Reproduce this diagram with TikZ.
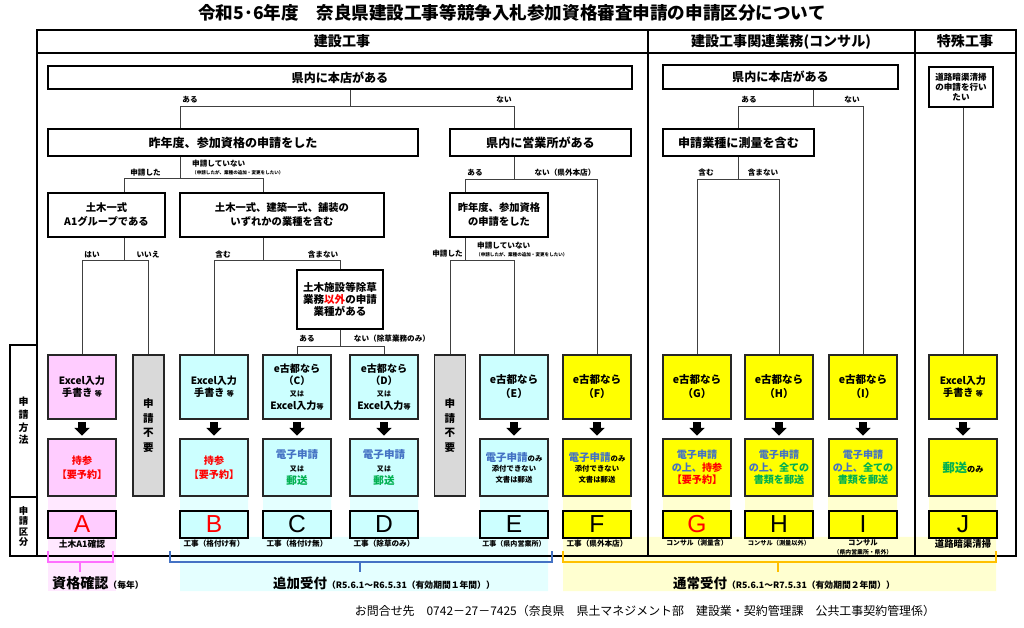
\documentclass[tikz,border=0pt]{standalone}
\usepackage{fontspec}
\setmainfont{Noto Sans CJK JP}
\newfontfamily\letterfont{Liberation Sans}
\usetikzlibrary{arrows.meta}

\definecolor{pinkbox}{RGB}{255,204,255}
\definecolor{cyanbox}{RGB}{204,255,255}
\definecolor{yelbox}{RGB}{255,255,0}
\definecolor{greybox}{RGB}{217,217,217}
\definecolor{pinkpale}{RGB}{255,232,255}
\definecolor{cyanpale}{RGB}{228,255,255}
\definecolor{yelpale}{RGB}{255,255,208}
\definecolor{ebblue}{RGB}{68,114,196}
\definecolor{mailgreen}{RGB}{0,176,80}
\definecolor{brpink}{RGB}{255,110,255}
\definecolor{brblue}{RGB}{68,114,196}
\definecolor{brgold}{RGB}{255,192,0}

\newcommand{\fsz}[2]{\fontsize{#1}{#2}\selectfont}

\tikzset{
  sz/.style 2 args={minimum width=#1*0.03cm, minimum height=#2*0.03cm},
  dec/.style={draw, line width=1.6pt, fill=white, align=center, inner sep=0pt, font=\bfseries\fsz{10.3}{12.5}},
  meth/.style={draw=black!85, line width=0.9pt, align=center, inner sep=0pt, font=\bfseries\fsz{8.6}{10.5}, sz={68}{64}},
  res/.style={meth, sz={68}{57}},
  nobox/.style={meth, fill=greybox, sz={31}{141}, font=\bfseries\fsz{9}{12.5}},
  lett/.style={draw, line width=1pt, inner sep=0pt, sz={68}{27}, font=\letterfont\fsz{21}{21}},
  conn/.style={draw=black!75, line width=0.6pt},
  lbl/.style={font=\bfseries\fsz{6.5}{7}, inner sep=0pt},
  note/.style={font=\bfseries\fsz{3.9}{4}, inner sep=0pt},
  catlbl/.style={font=\bfseries\fsz{6.5}{7.5}, align=center, inner sep=0pt},
  blk/.style={draw=black, line width=6.5pt, -{Triangle[width=13pt,length=6.5pt,line width=0pt]}, shorten <=2.5pt, shorten >=2.5pt},
  brace/.style={line width=1.6pt},
}

\begin{document}
\begin{tikzpicture}[x=0.03cm, y=-0.03cm]
\useasboundingbox (0,0) rectangle (1024,628);

% pale backgrounds
\fill[pinkpale] (48,497) rectangle (116,591);
\fill[cyanpale] (180,497) rectangle (248,537) (263,497) rectangle (331,537)
  (350,497) rectangle (418,537) (480,497) rectangle (548,537) (180,537) rectangle (548,591);
\fill[yelpale] (563,497) rectangle (631,537) (663,497) rectangle (730,537)
  (745,497) rectangle (813,537) (828,497) rectangle (897,537)
  (929,497) rectangle (996,537) (563,537) rectangle (996,591);

% title
\node[font=\bfseries\fsz{15}{15}] (title) at (512,13) {令和5･6年度　奈良県建設工事等競争入札参加資格審査申請の申請区分について};

% frame
\draw[line width=1.5pt] (37,30) rectangle (1016,556);
\draw[line width=1.5pt] (37,53) -- (1016,53);
\draw[line width=1.5pt] (648,30) -- (648,556);
\draw[line width=1.5pt] (915,30) -- (915,556);
\node[font=\bfseries\fsz{12}{12}] (h1) at (342,41.5) {建設工事};
\node[font=\bfseries\fsz{12}{12}] (h2) at (781,41.5) {建設工事関連業務(コンサル)};
\node[font=\bfseries\fsz{12}{12}] (h3) at (965,41.5) {特殊工事};

% side labels
\node[draw, line width=1.2pt, sz={27}{152}, align=center, inner sep=0pt, font=\bfseries\fsz{8.5}{10.7}] (hm) at (23.5,421) {申\\請\\方\\法};
\node[draw, line width=1.2pt, sz={27}{59}, align=center, inner sep=0pt, font=\bfseries\fsz{8}{8.8}] (hk) at (23.5,526.5) {申\\請\\区\\分};

% questions
\node[dec, sz={584}{23}] (hq) at (340,77.5) {県内に本店がある};
\node[dec, sz={370}{27}] (last) at (233,142.5) {昨年度、参加資格の申請をした};
\node[dec, sz={181}{27}] (office) at (540.5,142.5) {県内に営業所がある};
\node[dec, sz={117}{44}, font=\bfseries\fsz{8.8}{12}] (a1q) at (106.5,215) {土木一式\\A1グループである};
\node[dec, sz={204}{44}, font=\bfseries\fsz{8.8}{12}] (gyoq) at (282,215) {土木一式、建築一式、舗装の\\いずれかの業種を含む};
\node[dec, sz={86}{59}, font=\bfseries\fsz{9}{10.2}] (josq) at (340,299.5) {土木施設等除草\\業務{\color{red}以外}の申請\\業種がある};
\node[dec, sz={98}{44}, font=\bfseries\fsz{8.8}{12}] (last2) at (499,215) {昨年度、参加資格\\の申請をした};
\node[dec, sz={235}{24}] (chq) at (780.5,77) {県内に本店がある};
\node[dec, sz={151}{27}] (sokq) at (738.5,142.5) {申請業種に測量を含む};
\node[dec, sz={64}{40}, font=\bfseries\fsz{7.3}{8.6}] (road) at (961,87) {道路暗渠清掃\\の申請を行い\\たい};

% method boxes
\node[meth, fill=pinkbox] (mA) at (82,387) {Excel入力\\手書き {\fsz{6}{6}等}};
\node[nobox] (nA) at (148.5,425.5) {申\\請\\不\\要};
\node[meth, fill=cyanbox] (mB) at (214,387) {Excel入力\\手書き {\fsz{6}{6}等}};
\node[meth, fill=cyanbox] (mC) at (297,387) {e古都なら\\（C）\\{\fsz{6}{6}又は}\\Excel入力{\fsz{6}{6}等}};
\node[meth, fill=cyanbox] (mD) at (384,387) {e古都なら\\（D）\\{\fsz{6}{6}又は}\\Excel入力{\fsz{6}{6}等}};
\node[nobox] (nE) at (450,425.5) {申\\請\\不\\要};
\node[meth, fill=cyanbox, font=\bfseries\fsz{9}{12}] (mE) at (514,387) {e古都なら\\（E）};
\node[meth, fill=yelbox, font=\bfseries\fsz{9}{12}] (mF) at (597,387) {e古都なら\\（F）};
\node[meth, fill=yelbox, font=\bfseries\fsz{9}{12}] (mG) at (697,387) {e古都なら\\（G）};
\node[meth, fill=yelbox, font=\bfseries\fsz{9}{12}] (mH) at (779,387) {e古都なら\\（H）};
\node[meth, fill=yelbox, font=\bfseries\fsz{9}{12}] (mI) at (863,387) {e古都なら\\（I）};
\node[meth, fill=yelbox] (mJ) at (963,387) {Excel入力\\手書き {\fsz{6}{6}等}};

% how to submit
\node[res, fill=pinkbox, text=red, font=\bfseries\fsz{8.6}{12}] (rA) at (82,467.5) {持参\\【要予約】};
\node[res, fill=cyanbox, text=red, font=\bfseries\fsz{8.6}{12}] (rB) at (214,467.5) {持参\\【要予約】};
\node[res, fill=cyanbox, font=\bfseries\fsz{9}{11}] (rC) at (297,467.5) {{\color{ebblue}電子申請}\\{\fsz{6}{6}又は}\\{\color{mailgreen}郵送}};
\node[res, fill=cyanbox, font=\bfseries\fsz{9}{11}] (rD) at (384,467.5) {{\color{ebblue}電子申請}\\{\fsz{6}{6}又は}\\{\color{mailgreen}郵送}};
\node[res, fill=cyanbox, font=\bfseries\fsz{6.3}{9}] (rE) at (514,467.5) {{\color{ebblue}\fsz{9}{9}電子申請}のみ\\添付できない\\文書は郵送};
\node[res, fill=yelbox, font=\bfseries\fsz{6.3}{9}] (rF) at (597,467.5) {{\color{ebblue}\fsz{9}{9}電子申請}のみ\\添付できない\\文書は郵送};
\node[res, fill=yelbox, font=\bfseries\fsz{8.6}{10.6}] (rG) at (697,467.5) {{\color{ebblue}電子申請}\\{\color{ebblue}の上、}{\color{red}持参}\\{\color{red}【要予約】}};
\node[res, fill=yelbox, font=\bfseries\fsz{8.6}{10.6}] (rH) at (779,467.5) {{\color{ebblue}電子申請}\\{\color{ebblue}の上、}{\color{mailgreen}全ての}\\{\color{mailgreen}書類を郵送}};
\node[res, fill=yelbox, font=\bfseries\fsz{8.6}{10.6}] (rI) at (863,467.5) {{\color{ebblue}電子申請}\\{\color{ebblue}の上、}{\color{mailgreen}全ての}\\{\color{mailgreen}書類を郵送}};
\node[res, fill=yelbox, font=\bfseries\fsz{7}{7}] (rJ) at (963,467.5) {{\color{mailgreen}\fsz{10.5}{10.5}郵送}のみ};

% arrows
\draw[blk] (mA.south) -- (rA.north);
\draw[blk] (mB.south) -- (rB.north);
\draw[blk] (mC.south) -- (rC.north);
\draw[blk] (mD.south) -- (rD.north);
\draw[blk] (mE.south) -- (rE.north);
\draw[blk] (mF.south) -- (rF.north);
\draw[blk] (mG.south) -- (rG.north);
\draw[blk] (mH.south) -- (rH.north);
\draw[blk] (mI.south) -- (rI.north);
\draw[blk] (mJ.south) -- (rJ.north);

% categories
\node[lett, fill=pinkbox, text=red] (lA) at (82,524.5) {A};
\node[lett, fill=cyanbox, text=red] (lB) at (214,524.5) {B};
\node[lett, fill=cyanbox] (lC) at (297,524.5) {C};
\node[lett, fill=cyanbox] (lD) at (384,524.5) {D};
\node[lett, fill=cyanbox] (lE) at (514,524.5) {E};
\node[lett, fill=yelbox] (lF) at (597,524.5) {F};
\node[lett, fill=yelbox, text=red] (lG) at (697,524.5) {G};
\node[lett, fill=yelbox] (lH) at (779,524.5) {H};
\node[lett, fill=yelbox] (lI) at (863,524.5) {I};
\node[lett, fill=yelbox] (lJ) at (963,524.5) {J};

\node[catlbl, font=\bfseries\fsz{7.5}{8}] (cA) at (82,544) {土木A1確認};
\node[catlbl] (cB) at (214,544) {工事（格付け有）};
\node[catlbl] (cC) at (297,544) {工事（格付け無）};
\node[catlbl] (cD) at (384,544) {工事（除草のみ）};
\node[catlbl, font=\bfseries\fsz{6}{7}] (cE) at (514,544) {工事（県内営業所）};
\node[catlbl] (cF) at (597,544) {工事（県外本店）};
\node[catlbl, font=\bfseries\fsz{5.8}{7}] (cG) at (697,543) {コンサル（測量含）};
\node[catlbl, font=\bfseries\fsz{5.3}{7}] (cH) at (779,543) {コンサル（測量以外）};
\node[catlbl, font=\bfseries\fsz{5}{7.5}] (cI) at (863,547) {{\fsz{6.3}{7}コンサル}\\（県内営業所・県外）};
\node[catlbl, font=\bfseries\fsz{8}{8}] (cJ) at (963,544) {道路暗渠清掃};

% connectors
\coordinate (j1) at (350,106); \coordinate (j1l) at (180,106); \coordinate (j1r) at (514,106);
\draw[conn] (j1 |- hq.south) -- (j1) (j1l |- last.north) |- (j1r) -- (j1r |- office.north);
\node[lbl] at (190,100) {ある};
\node[lbl] at (504,100) {ない};

\coordinate (j2) at (180,178); \coordinate (j2l) at (124,178); \coordinate (j2r) at (263,178);
\draw[conn] (j2 |- last.south) -- (j2) (j2l |- a1q.north) |- (j2r) -- (j2r |- gyoq.north);
\node[lbl, anchor=east] at (161,173) {申請した};
\node[lbl, anchor=west] at (192,164) {申請していない};
\node[note, anchor=west] at (192,173) {（申請したが、業種の追加・変更をしたい）};

\coordinate (j3) at (514,179); \coordinate (j3l) at (465,179); \coordinate (j3r) at (597,179);
\draw[conn] (j3 |- office.south) -- (j3) (j3l |- last2.north) |- (j3r) -- (j3r |- mF.north);
\node[lbl] at (475,173) {ある};
\node[lbl] at (565,173) {ない（県外本店）};

\coordinate (j4) at (124,260); \coordinate (j4l) at (82,260); \coordinate (j4r) at (148.5,260);
\draw[conn] (j4 |- a1q.south) -- (j4) (j4l |- mA.north) |- (j4r) -- (j4r |- nA.north);
\node[lbl] at (92,255) {はい};
\node[lbl] at (148,255) {いいえ};

\coordinate (j5) at (263,260); \coordinate (j5l) at (214,260); \coordinate (j5r) at (340,260);
\draw[conn] (j5 |- gyoq.south) -- (j5) (j5l |- mB.north) |- (j5r) -- (j5r |- josq.north);
\node[lbl] at (223,255) {含む};
\node[lbl] at (323,255) {含まない};

\coordinate (j6) at (340,346); \coordinate (j6l) at (297,346); \coordinate (j6r) at (384,346);
\draw[conn] (j6 |- josq.south) -- (j6) (j6l |- mC.north) |- (j6r) -- (j6r |- mD.north);
\node[lbl] at (307,339) {ある};
\node[lbl] at (392,339) {ない（除草業務のみ）};

\coordinate (j7) at (465,260); \coordinate (j7l) at (450,260); \coordinate (j7r) at (514,260);
\draw[conn] (j7 |- last2.south) -- (j7) (j7l |- nE.north) |- (j7r) -- (j7r |- mE.north);
\node[lbl, anchor=east] at (463,254) {申請した};
\node[lbl, anchor=west] at (477,246) {申請していない};
\node[note, anchor=west] at (476,255) {（申請したが、業種の追加・変更をしたい）};

\coordinate (j8) at (813,106); \coordinate (j8l) at (738,106); \coordinate (j8r) at (863,106);
\draw[conn] (j8 |- chq.south) -- (j8) (j8l |- sokq.north) |- (j8r) -- (j8r |- mI.north);
\node[lbl] at (749,100) {ある};
\node[lbl] at (852,100) {ない};

\coordinate (j9) at (738,179); \coordinate (j9l) at (697,179); \coordinate (j9r) at (779,179);
\draw[conn] (j9 |- sokq.south) -- (j9) (j9l |- mG.north) |- (j9r) -- (j9r |- mH.north);
\node[lbl] at (706,173) {含む};
\node[lbl] at (763,173) {含まない};

\draw[conn] (mJ.north |- road.south) -- (mJ.north);

% brackets
\draw[brace, brpink] (48,551) -- (48,562) -- (113,562) -- (113,551) (80,562) -- (80,572);
\draw[brace, brblue] (170,551) -- (170,562) -- (552,562) -- (552,551) (360,562) -- (360,572);
\draw[brace, brgold] (563,551) -- (563,562) -- (996,562) -- (996,551) (778,562) -- (778,572);

\node[font=\bfseries\fsz{12}{12}, anchor=west, inner sep=0pt] (k1) at (52,583) {資格確認{\fsz{7.5}{7.5}（毎年）}};
\node[font=\bfseries\fsz{11.5}{11.5}] (k2) at (384,583) {追加受付{\fsz{7.5}{7.5}（R5.6.1～R6.5.31（有効期間１年間））}};
\node[font=\bfseries\fsz{11.5}{11.5}] (k3) at (784,583) {通常受付{\fsz{7.5}{7.5}（R5.6.1～R7.5.31（有効期間２年間））}};

% footer
\node[font=\fsz{10.2}{10.5}] (foot) at (645,611) {お問合せ先　0742－27－7425（奈良県　県土マネジメント部　建設業・契約管理課　公共工事契約管理係）};

\end{tikzpicture}
\end{document}
